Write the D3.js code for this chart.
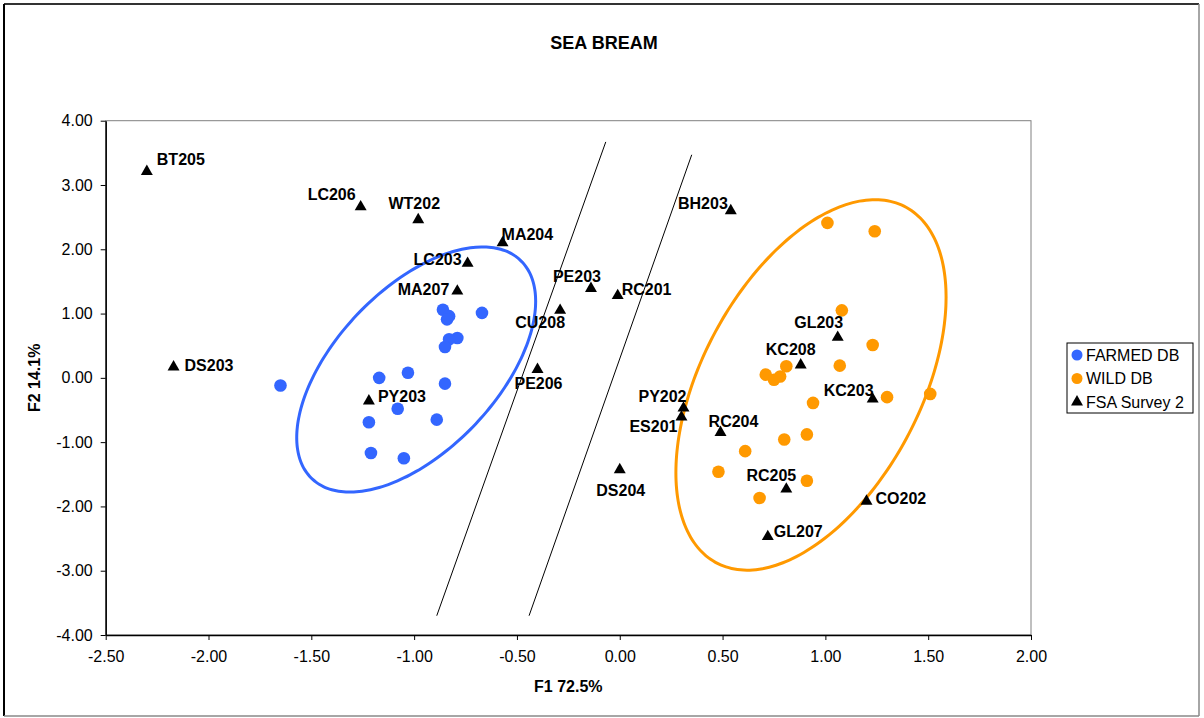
<!DOCTYPE html>
<html>
<head>
<meta charset="utf-8">
<script src="https://cdn.jsdelivr.net/npm/d3@7"></script>
<style>
    body { margin: 0; background: #fff; }
    text { font-family: Arial, "Liberation Sans", sans-serif; }
</style>
</head>
<body>
<svg id="chart" width="1204" height="718"></svg>
<script>
// Values.
const farmedX = [-1.65, -1.17, -1.03, -0.85, -1.08, -1.22, -0.89, -1.21, -1.05, -0.86, -0.83, -0.84, -0.67, -0.79, -0.83, -0.85];
const farmedY = [-0.12, 0.00, 0.08, -0.09, -0.48, -0.69, -0.65, -1.17, -1.25, 1.06, 0.96, 0.91, 1.01, 0.62, 0.60, 0.48];

const wildX = [1.01, 1.24, 1.08, 1.23, 1.07, 0.81, 0.71, 0.75, 0.78, 0.94, 1.30, 1.51, 0.91, 0.80, 0.61, 0.48, 0.91, 0.68];
const wildY = [2.41, 2.28, 1.05, 0.51, 0.19, 0.18, 0.05, -0.03, 0.02, -0.39, -0.30, -0.25, -0.88, -0.96, -1.14, -1.46, -1.60, -1.87];

const surveyNames = ["BT205", "LC206", "WT202", "MA204", "LC203", "MA207", "PE203", "RC201", "CU208", "BH203",
    "GL203", "KC208", "KC203", "PY202", "ES201", "RC204", "RC205", "CO202", "GL207", "DS204", "DS203", "PY203", "PE206"];
const surveyX = [-2.30, -1.26, -0.98, -0.57, -0.74, -0.79, -0.14, -0.01, -0.29, 0.54,
    1.06, 0.88, 1.23, 0.31, 0.30, 0.49, 0.81, 1.20, 0.72, 0.00, -2.17, -1.22, -0.40];
const surveyY = [3.21, 2.66, 2.46, 2.10, 1.78, 1.35, 1.39, 1.28, 1.05, 2.60,
    0.63, 0.20, -0.33, -0.47, -0.61, -0.85, -1.73, -1.92, -2.47, -1.43, 0.17, -0.36, 0.13];

// Hand-drawn group ellipses: centre and two conjugate half-diameters (data units)
const farmedEllipseCenter = [-0.99, 0.13];
const farmedEllipseAxes = [[0.581, 1.06], [0, 1.585]];
const wildEllipseCenter = [0.93, -0.11];
const wildEllipseAxes = [[0.657, 1.365], [0, 2.538]];

// The two separating lines
const dividerLines = [
    [[-0.890, -3.70], [-0.068, 3.67]],
    [[-0.441, -3.70], [0.350, 3.47]]
];

const xTicks = [-2.5, -2.0, -1.5, -1.0, -0.5, 0.0, 0.5, 1.0, 1.5, 2.0];
const yTicks = [-4, -3, -2, -1, 0, 1, 2, 3, 4];

// Label placement for each survey point: [anchor, dx, dy] in pixels
const labelPlacement = [
    ["start", 10, -12], ["end", -5, -12], ["middle", -4, -16], ["start", -1, -8], ["end", -6, -4],
    ["end", -8, -2], ["middle", -14, -12], ["start", 4, -6], ["middle", -20, 12], ["end", -3, -7],
    ["middle", -19, -15], ["middle", -10, -16], ["middle", -24, -9], ["middle", -21, -12], ["end", -4, 9],
    ["middle", 13, -11], ["middle", -15, -14], ["start", 9, -3], ["start", 6, -5], ["middle", 1, 21],
    ["start", 11, -2], ["start", 9, -5], ["middle", 1, 14]
];

const blue = "#3366ff";
const orange = "#ff9900";

const svg = d3.select("#chart");

// chart area border
svg.append("rect").attr("x", 0).attr("y", 0).attr("width", 1204).attr("height", 718).attr("fill", "#fff");
svg.append("line").attr("x1", 4).attr("x2", 1199).attr("y1", 4).attr("y2", 4).attr("stroke", "#333").attr("stroke-width", 2);
svg.append("line").attr("x1", 4).attr("x2", 4).attr("y1", 4).attr("y2", 716).attr("stroke", "#000").attr("stroke-width", 2);
svg.append("line").attr("x1", 4).attr("x2", 1199).attr("y1", 716).attr("y2", 716).attr("stroke", "#888").attr("stroke-width", 1.5);
svg.append("line").attr("x1", 1199).attr("x2", 1199).attr("y1", 4).attr("y2", 716).attr("stroke", "#888").attr("stroke-width", 1.5);

const x = d3.scaleLinear().domain([-2.5, 2]).range([105.7, 1031]);
const y = d3.scaleLinear().domain([-4, 4]).range([635, 120.7]);

// plot area frame
svg.append("rect")
    .attr("x", x(-2.5)).attr("y", y(4))
    .attr("width", x(2) - x(-2.5)).attr("height", y(-4) - y(4))
    .attr("fill", "none").attr("stroke", "#808080").attr("stroke-width", 1);

const fmt = d => d.toFixed(2);

const yAxis = svg.append("g")
    .attr("transform", `translate(${x(-2.5)},0)`)
    .call(d3.axisLeft(y).tickValues(yTicks).tickFormat(fmt).tickSize(5).tickSizeOuter(0).tickPadding(8));
const xAxis = svg.append("g")
    .attr("transform", `translate(0,${y(-4)})`)
    .call(d3.axisBottom(x).tickValues(xTicks).tickFormat(fmt).tickSize(5).tickSizeOuter(0).tickPadding(11));

[xAxis, yAxis].forEach(g => {
    g.selectAll("text").attr("font-size", 16).attr("font-family", "Arial, 'Liberation Sans', sans-serif").attr("fill", "#000");
    g.selectAll("line").attr("stroke", "#000");
    g.select(".domain").attr("stroke", "#000").attr("stroke-width", 1.5);
});

// title and axis titles
svg.append("text").attr("x", 604).attr("y", 49).attr("text-anchor", "middle")
    .attr("font-size", 18).attr("font-weight", "bold").text("SEA BREAM");
svg.append("text").attr("x", (x(-2.5) + x(2)) / 2).attr("y", 692).attr("text-anchor", "middle")
    .attr("font-size", 16).attr("font-weight", "bold").text("F1 72.5%");
svg.append("text").attr("transform", `translate(40,${(y(4) + y(-4)) / 2}) rotate(-90)`).attr("text-anchor", "middle")
    .attr("font-size", 16).attr("font-weight", "bold").text("F2 14.1%");

// divider lines
const line = d3.line().x(d => x(d[0])).y(d => y(d[1]));
svg.append("g").selectAll("path")
    .data(dividerLines)
    .join("path")
    .attr("d", line)
    .attr("fill", "none").attr("stroke", "#000").attr("stroke-width", 1);

// ellipses
function ellipsePoints(c, axes) {
    return d3.range(0, 361, 3).map(deg => {
        const t = deg * Math.PI / 180;
        return [c[0] + axes[0][0] * Math.cos(t) + axes[1][0] * Math.sin(t),
                c[1] + axes[0][1] * Math.cos(t) + axes[1][1] * Math.sin(t)];
    });
}
const closedLine = d3.line().x(d => x(d[0])).y(d => y(d[1])).curve(d3.curveCardinalClosed);
svg.append("path").attr("d", closedLine(ellipsePoints(farmedEllipseCenter, farmedEllipseAxes)))
    .attr("fill", "none").attr("stroke", blue).attr("stroke-width", 3);
svg.append("path").attr("d", closedLine(ellipsePoints(wildEllipseCenter, wildEllipseAxes)))
    .attr("fill", "none").attr("stroke", orange).attr("stroke-width", 3);

// points
svg.append("g").selectAll("circle")
    .data(d3.zip(farmedX, farmedY))
    .join("circle")
    .attr("cx", d => x(d[0])).attr("cy", d => y(d[1])).attr("r", 6.3)
    .attr("fill", blue);

svg.append("g").selectAll("circle")
    .data(d3.zip(wildX, wildY))
    .join("circle")
    .attr("cx", d => x(d[0])).attr("cy", d => y(d[1])).attr("r", 6.3)
    .attr("fill", orange);

const tri = d3.symbol().type(d3.symbolTriangle).size(62);
const survey = surveyNames.map((name, i) => ({ name, x: surveyX[i], y: surveyY[i], place: labelPlacement[i] }));

svg.append("g").selectAll("path")
    .data(survey)
    .join("path")
    .attr("d", tri)
    .attr("transform", d => `translate(${x(d.x)},${y(d.y)})`)
    .attr("fill", "#000");

svg.append("g").selectAll("text")
    .data(survey)
    .join("text")
    .attr("x", d => x(d.x) + d.place[1])
    .attr("y", d => y(d.y) + d.place[2])
    .attr("dy", "0.35em")
    .attr("text-anchor", d => d.place[0])
    .attr("font-size", 16)
    .attr("font-weight", "bold")
    .text(d => d.name);

// legend
const legendItems = ["FARMED DB", "WILD DB", "FSA Survey 2"];
const legendColors = [blue, orange, "#000"];
const legend = svg.append("g").attr("transform", "translate(1067,343)");
legend.append("rect").attr("width", 126).attr("height", 70)
    .attr("fill", "#fff").attr("stroke", "#000").attr("stroke-width", 1);
legendItems.forEach((label, i) => {
    const ly = 12 + i * 23.5;
    if (i < 2) {
        legend.append("circle").attr("cx", 10).attr("cy", ly).attr("r", 5.5).attr("fill", legendColors[i]);
    } else {
        legend.append("path").attr("d", tri).attr("transform", `translate(10,${ly})`).attr("fill", "#000");
    }
    legend.append("text").attr("x", 19).attr("y", ly).attr("dy", "0.35em")
        .attr("font-size", 16).text(label);
});
</script>
</body>
</html>
